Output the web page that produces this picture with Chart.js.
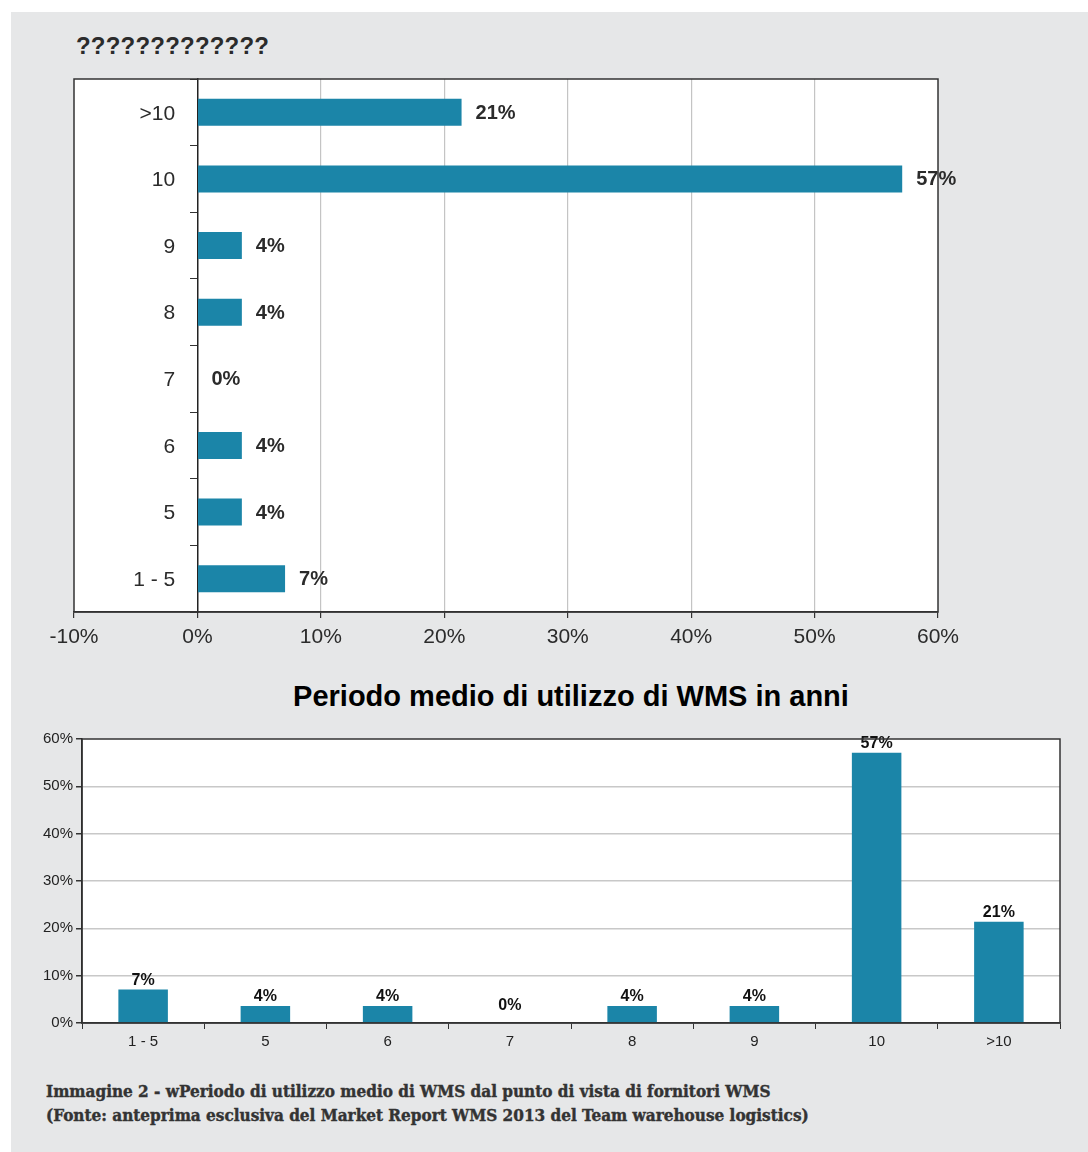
<!DOCTYPE html>
<html>
<head>
<meta charset="utf-8">
<script src="https://cdn.jsdelivr.net/npm/chart.js@4"></script>
<style>
  html, body { margin: 0; padding: 0; background: #fff; overflow: hidden; }
  body { width: 1088px; height: 1152px; position: relative; font-family: "Liberation Sans", Arial, sans-serif; }
  #pannello { position: absolute; left: 11px; top: 12px; width: 1077px; height: 1140px; background: #e6e7e8; }
  #titolo1 { position: absolute; left: 76px; top: 32px; font-size: 24px; font-weight: bold; color: #2b2b2b; letter-spacing: 0.2px; }
  #titolo2 { position: absolute; left: 0; width: 1142px; top: 680px; text-align: center; font-size: 29px; font-weight: bold; color: #000; }
  #didascalia { position: absolute; left: 46px; top: 1079px; font-family: "DejaVu Serif Condensed", "DejaVu Serif", serif; font-weight: bold; font-size: 17px; line-height: 24px; color: #333; -webkit-text-stroke: 0.4px #333; }
  #box1 { position: absolute; left: 0; top: 0; width: 1088px; height: 670px; }
  #box2 { position: absolute; left: 0; top: 720px; width: 1088px; height: 345px; }
</style>
</head>
<body>
<div id="pannello"></div>
<div id="titolo1">?????????????</div>
<div id="box1"><canvas id="grafico_orizzontale"></canvas></div>
<div id="titolo2">Periodo medio di utilizzo di WMS in anni</div>
<div id="box2"><canvas id="grafico_colonne"></canvas></div>
<div id="didascalia">Immagine 2 - wPeriodo di utilizzo medio di WMS dal punto di vista di fornitori WMS<br>(Fonte: anteprima esclusiva del Market Report WMS 2013 del Team warehouse logistics)</div>

<script>
// dati (percentuali, 28 risposte circa)
const anni = ["1 - 5", "5", "6", "7", "8", "9", "10", ">10"]
const percentuali = [7.1, 3.6, 3.6, 0, 3.6, 3.6, 57.1, 21.4]
// il grafico orizzontale parte dall'alto con ">10"
const anniInvertiti = anni.slice().reverse()
const percentualiInvertite = percentuali.slice().reverse()

const coloreBarre = "#1b85a8"
const font = "'Liberation Sans', Arial, sans-serif"

const sfondoBianco = {
    id: "sfondoBianco",
    beforeDraw(chart) {
        const { ctx, chartArea: a } = chart
        ctx.save()
        ctx.fillStyle = "#fff"
        ctx.fillRect(a.left, a.top, a.right - a.left, a.bottom - a.top)
        ctx.restore()
    },
    afterDraw(chart) {
        const { ctx, chartArea: a } = chart
        ctx.save()
        ctx.strokeStyle = "#333"
        ctx.lineWidth = 1.5
        ctx.strokeRect(a.left, a.top, a.right - a.left, a.bottom - a.top)
        ctx.restore()
    }
}

const etichette = {
    id: "etichette",
    afterDatasetsDraw(chart, args, opts) {
        const { ctx } = chart
        const meta = chart.getDatasetMeta(0)
        const valori = chart.data.datasets[0].data
        ctx.save()
        ctx.font = opts.font
        ctx.fillStyle = opts.color
        meta.data.forEach((bar, i) => {
            const testo = Math.round(valori[i]) + "%"
            if (chart.options.indexAxis === "y") {
                ctx.textAlign = "left"
                ctx.textBaseline = "middle"
                ctx.fillText(testo, bar.x + 14, bar.y + 1)
            } else {
                ctx.textAlign = "center"
                ctx.textBaseline = "bottom"
                // lo 0% nell'originale sta un po' staccato dall'asse
                ctx.fillText(testo, bar.x, bar.y - (valori[i] === 0 ? 9 : 1))
            }
        })
        ctx.restore()
    }
}

const percento = v => v + "%"

const criarGraficoOrizzontale = () => {
    const ctx = document.querySelector("#grafico_orizzontale")
    new Chart(ctx, {
        type: "bar",
        data: {
            labels: anniInvertiti,
            datasets: [{ data: percentualiInvertite, backgroundColor: coloreBarre, barPercentage: 0.45, categoryPercentage: 0.9 }]
        },
        options: {
            indexAxis: "y",
            responsive: true,
            maintainAspectRatio: false,
            animation: false,
            layout: { padding: { left: 74, right: 150, top: 79, bottom: 18 } },
            plugins: {
                legend: { display: false },
                tooltip: { enabled: false },
                etichette: { font: "bold 20px " + font, color: "#2b2b2b" }
            },
            scales: {
                x: {
                    min: -10, max: 60,
                    ticks: { stepSize: 10, callback: percento, color: "#2b2b2b", font: { size: 21, family: font }, padding: 7, maxRotation: 0 },
                    grid: {
                        color: c => (c.tick && c.tick.value > 0 && c.tick.value < 60) ? "#c4c4c4" : "transparent",
                        tickColor: "#333", tickLength: 6, lineWidth: 1.2
                    },
                    border: { color: "#333", width: 1.5 },
                    afterFit: s => { s.height = 40 }
                },
                // asse sullo zero: linea e tacche
                y: {
                    position: { x: 0 },
                    ticks: { display: false },
                    grid: { drawOnChartArea: false, tickColor: "#333", tickLength: 7 },
                    border: { color: "#222", width: 1.5 }
                },
                // solo le etichette delle categorie, un po' a sinistra dello zero
                yEtichette: {
                    type: "category",
                    axis: "y",
                    offset: true,
                    position: { x: -1.8 },
                    ticks: { color: "#2b2b2b", font: { size: 21, family: font }, labelOffset: 1.5 },
                    grid: { display: false },
                    border: { display: false }
                }
            }
        },
        plugins: [sfondoBianco, etichette]
    })
}

const criarGraficoColonne = () => {
    const ctx = document.querySelector("#grafico_colonne")
    new Chart(ctx, {
        type: "bar",
        data: {
            labels: anni,
            datasets: [{ data: percentuali, backgroundColor: coloreBarre, barPercentage: 0.45, categoryPercentage: 0.9 }]
        },
        options: {
            responsive: true,
            maintainAspectRatio: false,
            animation: false,
            layout: { padding: { left: 22, right: 28, top: 19, bottom: 12 } },
            plugins: {
                legend: { display: false },
                tooltip: { enabled: false },
                etichette: { font: "bold 16px " + font, color: "#111" }
            },
            scales: {
                x: {
                    ticks: { color: "#222", font: { size: 15, family: font }, padding: 4 },
                    grid: { drawOnChartArea: false, tickColor: "#333", tickLength: 6 },
                    border: { color: "#333", width: 1.5 },
                    afterFit: s => { s.height = 30 }
                },
                y: {
                    min: 0, max: 60,
                    ticks: { stepSize: 10, callback: percento, color: "#222", font: { size: 15, family: font }, padding: 3 },
                    grid: {
                        color: c => (c.tick && c.tick.value > 0 && c.tick.value < 60) ? "#c8c8c8" : "transparent",
                        tickColor: "#333", tickLength: 6, lineWidth: 1.5
                    },
                    border: { color: "#222", width: 1.5 },
                    afterFit: s => { s.width = 60 }
                }
            }
        },
        plugins: [sfondoBianco, etichette]
    })
}

criarGraficoOrizzontale()
criarGraficoColonne()
</script>
</body>
</html>
